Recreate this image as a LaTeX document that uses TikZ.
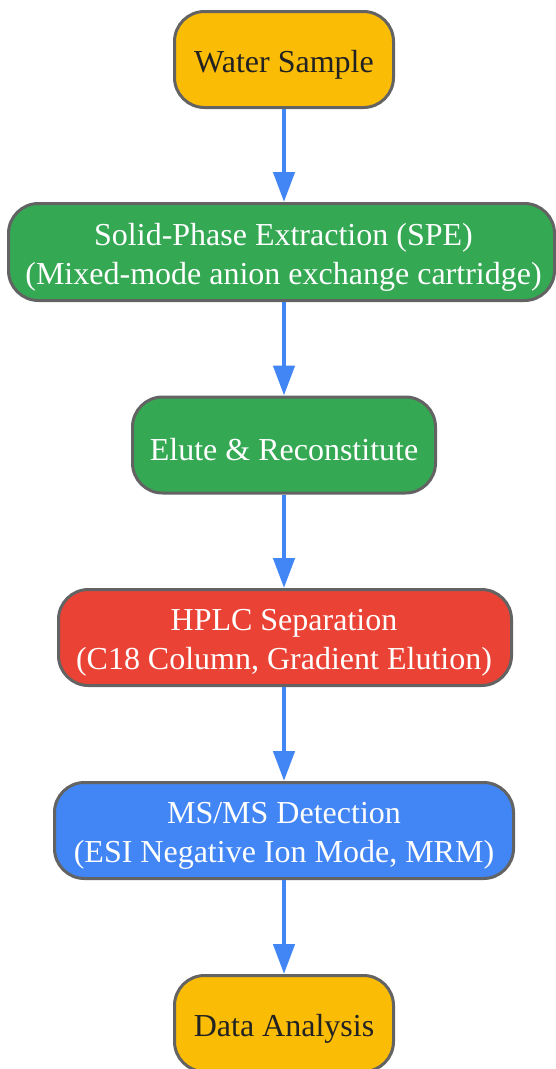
\documentclass[tikz,border=0pt]{standalone}
\usepackage{fontspec}
\setmainfont{Liberation Serif}
\usetikzlibrary{arrows.meta}
\definecolor{gyellow}{HTML}{FBBC05}
\definecolor{ggreen}{HTML}{34A853}
\definecolor{gred}{HTML}{EA4335}
\definecolor{gblue}{HTML}{4285F4}
\definecolor{bordergray}{HTML}{636363}
\definecolor{darktext}{HTML}{222222}
\tikzset{
  stepbox/.style={draw=bordergray, line width=3pt, rounded corners=30pt,
    minimum height=96pt, inner sep=0pt},
  yellowbox/.style={stepbox, fill=gyellow},
  greenbox/.style={stepbox, fill=ggreen},
  redbox/.style={stepbox, fill=gred},
  bluebox/.style={stepbox, fill=gblue},
  steptext/.style={align=center, inner sep=0pt, text=white,
    font=\fontsize{32}{39}\selectfont},
  darksteptext/.style={steptext, text=darktext},
  flow/.style={draw=gblue, line width=4.5pt, -{Triangle[length=30pt,width=21pt]}}
}
\begin{document}
\begin{tikzpicture}[x=1pt,y=-1pt]
\useasboundingbox (0,0) rectangle (556,1069);
\node[yellowbox, minimum width=219pt] (water) at (284,59.5) {};
\node[darksteptext] (waterT) at ([yshift=-5pt]water.center) {Water Sample};
\node[greenbox, minimum width=546pt, minimum height=97pt] (spe) at (281.5,252) {};
\node[steptext] (speT) at ([xshift=2pt,yshift=-5pt]spe.center) {Solid-Phase Extraction (SPE)\\(Mixed-mode anion exchange cartridge)};
\node[greenbox, minimum width=303pt] (elute) at (284,445) {};
\node[steptext] (eluteT) at ([yshift=-5pt]elute.center) {Elute \& Reconstitute};
\node[redbox, minimum width=453pt] (hplc) at (285,637.5) {};
\node[steptext] (hplcT) at ([xshift=-1pt,yshift=-5pt]hplc.center) {HPLC Separation\\(C18 Column, Gradient Elution)};
\node[bluebox, minimum width=459pt] (msms) at (284,830.5) {};
\node[steptext] (msmsT) at ([yshift=-5pt]msms.center) {MS/MS Detection\\(ESI Negative Ion Mode, MRM)};
\node[yellowbox, minimum width=219pt] (data) at (284,1023.5) {};
\node[darksteptext] (dataT) at ([yshift=-5pt]data.center) {Data Analysis};
\draw[flow] (water.south) -- (water.south |- spe.north);
\draw[flow] (spe.south -| water.south) -- (elute.north);
\draw[flow] (elute.south) -- (elute.south |- hplc.north);
\draw[flow] (hplc.south -| elute.south) -- (msms.north);
\draw[flow] (msms.south) -- (data.north);
\end{tikzpicture}
\end{document}
